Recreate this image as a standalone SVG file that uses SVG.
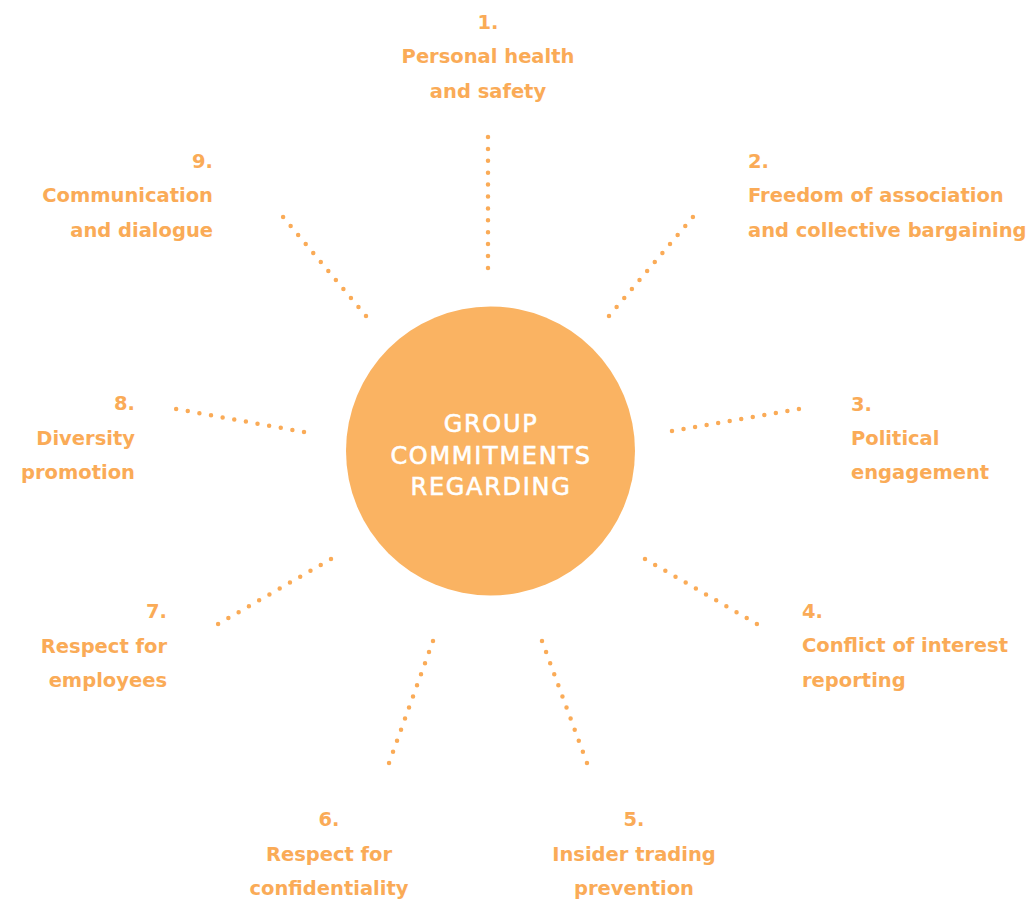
<svg xmlns="http://www.w3.org/2000/svg" width="1029" height="901" viewBox="0 0 1029 901">
<style>
.lbl{font-family:"DejaVu Sans","Liberation Sans",sans-serif;font-weight:bold;font-size:19.5px;fill:#FAAB57}
.mid{text-anchor:middle}
.end{text-anchor:end}
.dot{fill:none;stroke:#FAAB57;stroke-width:4.5;stroke-linecap:round}
.ctr{font-family:"DejaVu Sans","Liberation Sans",sans-serif;font-size:24px;fill:#FFFFFF;stroke:#FFFFFF;stroke-width:0.6;text-anchor:middle;letter-spacing:1.7px}
</style>
<rect width="1029" height="901" fill="#FFFFFF"/>
<g id="connectors">
<path class="dot" stroke-dasharray="0 11.9" d="M488 137 L488 268"/>
<path class="dot" stroke-dasharray="0 11.79" d="M609 316 L693 217"/>
<path class="dot" stroke-dasharray="0 11.71" d="M672 431 L799 409"/>
<path class="dot" stroke-dasharray="0 11.76" d="M645 559 L757 624"/>
<path class="dot" stroke-dasharray="0 11.81" d="M542 641 L587 763"/>
<path class="dot" stroke-dasharray="0 11.78" d="M433 641 L389 763"/>
<path class="dot" stroke-dasharray="0 11.84" d="M331 559 L218 624"/>
<path class="dot" stroke-dasharray="0 11.81" d="M304 432 L176 409"/>
<path class="dot" stroke-dasharray="0 11.73" d="M366 316 L283 217"/>
</g>
<g id="center">
<circle cx="490.5" cy="451" r="144.5" fill="#FAB362"/>
<text class="ctr" x="491" y="432">GROUP</text>
<text class="ctr" x="491" y="463.5">COMMITMENTS</text>
<text class="ctr" x="491" y="495">REGARDING</text>
</g>
<g id="n1">
<text class="lbl mid" x="488" y="29">1.</text>
<text class="lbl mid" x="488" y="63">Personal health</text>
<text class="lbl mid" x="488" y="98">and safety</text>
</g>
<g id="n2">
<text class="lbl" x="748" y="168">2.</text>
<text class="lbl" x="748" y="202">Freedom of association</text>
<text class="lbl" x="748" y="237">and collective bargaining</text>
</g>
<g id="n3">
<text class="lbl" x="851" y="411">3.</text>
<text class="lbl" x="851" y="445">Political</text>
<text class="lbl" x="851" y="479">engagement</text>
</g>
<g id="n4">
<text class="lbl" x="802" y="618">4.</text>
<text class="lbl" x="802" y="652">Conflict of interest</text>
<text class="lbl" x="802" y="687">reporting</text>
</g>
<g id="n5">
<text class="lbl mid" x="634" y="826">5.</text>
<text class="lbl mid" x="634" y="861">Insider trading</text>
<text class="lbl mid" x="634" y="895">prevention</text>
</g>
<g id="n6">
<text class="lbl mid" x="329" y="826">6.</text>
<text class="lbl mid" x="329" y="861">Respect for</text>
<text class="lbl mid" x="329" y="895">confidentiality</text>
</g>
<g id="n7">
<text class="lbl end" x="167" y="618">7.</text>
<text class="lbl end" x="167" y="653">Respect for</text>
<text class="lbl end" x="167" y="687">employees</text>
</g>
<g id="n8">
<text class="lbl end" x="135" y="410">8.</text>
<text class="lbl end" x="135" y="445">Diversity</text>
<text class="lbl end" x="135" y="479">promotion</text>
</g>
<g id="n9">
<text class="lbl end" x="213" y="168">9.</text>
<text class="lbl end" x="213" y="202">Communication</text>
<text class="lbl end" x="213" y="237">and dialogue</text>
</g>
</svg>
